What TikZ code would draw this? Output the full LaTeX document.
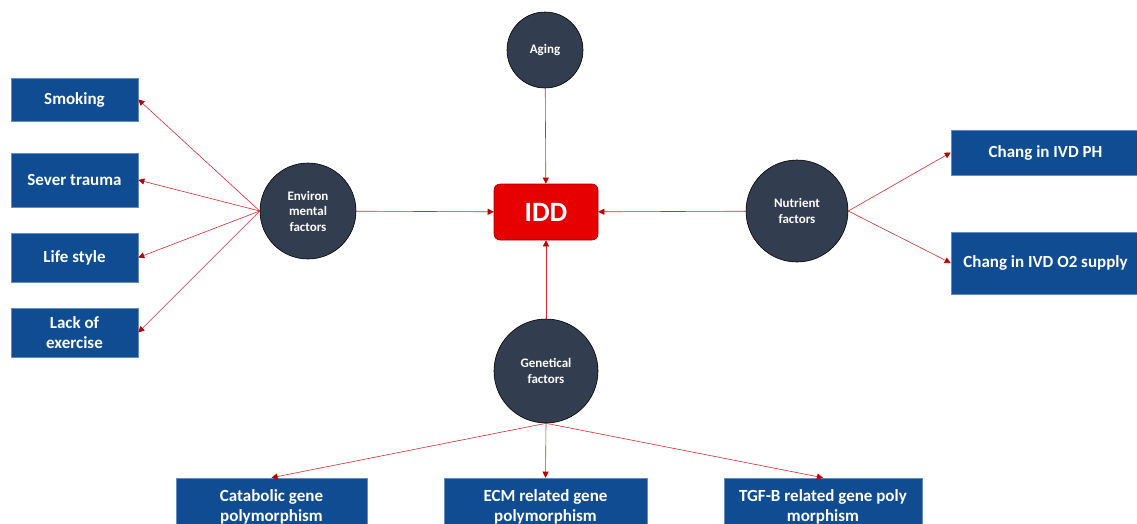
\documentclass[tikz,border=0pt]{standalone}
\usepackage{fontspec}
\setmainfont{Carlito}
\usetikzlibrary{arrows.meta}
\definecolor{hubfill}{RGB}{50,62,80}
\definecolor{boxfill}{RGB}{15,76,146}
\definecolor{boxline}{RGB}{100,140,190}
\definecolor{iddfill}{RGB}{230,0,0}
\definecolor{iddline}{RGB}{170,0,0}
\definecolor{linkred}{RGB}{215,45,45}
\definecolor{tipred}{RGB}{185,0,0}
\tikzset{
    hub/.style={circle, draw=black, line width=0.6pt, fill=hubfill, text=white, align=center, inner sep=0pt,
        font=\fontsize{13}{15.5}\selectfont\bfseries},
    leaf/.style={rectangle, draw=boxline, line width=0.6pt, fill=boxfill, text=white, align=center, inner sep=0pt,
        font=\fontsize{17}{20}\selectfont\bfseries},
    link/.style={draw=linkred, line width=0.6pt, -{Triangle[length=6pt,width=6pt,color=tipred]}}
}
\begin{document}
\begin{tikzpicture}[x=1pt,y=-1pt]
        \useasboundingbox (0,0) rectangle (1137,523);
        \clip (0,0) rectangle (1137,523);
        \node[rounded corners=6pt, draw=iddline, line width=0.6pt, fill=iddfill, text=white, minimum width=104pt, minimum height=56pt,
            font=\fontsize{28}{30}\selectfont\bfseries] (idd) at (546,212) {IDD};
        \node[hub, minimum size=76pt] (aging) at (545,50) {Aging};
        \node[hub, minimum size=96pt] (env) at (308,211) {Environ\\mental\\factors};
        \node[hub, minimum size=102pt] (nut) at (797,211) {Nutrient\\factors};
        \node[hub, minimum size=104pt] (gen) at (546,371) {Genetical\\factors};

        \node[leaf, minimum width=127pt, minimum height=43pt] (smoke) at (74.5,99.5) {Smoking};
        \node[leaf, minimum width=127pt, minimum height=54pt] (trauma) at (74.5,180) {Sever trauma};
        \node[leaf, minimum width=127pt, minimum height=49pt] (life) at (74.5,257.5) {Life style};
        \node[leaf, minimum width=127pt, minimum height=49pt] (lack) at (74.5,332.5) {Lack of\\exercise};

        \node[leaf, minimum width=189pt, minimum height=45pt] (ph) at (1045.5,152.5) {Chang in IVD PH};
        \node[leaf, minimum width=189pt, minimum height=62pt] (oxy) at (1045.5,263) {Chang in IVD O2 supply};

        \node[leaf, minimum width=191pt, minimum height=58pt] (cat) at (271.5,507) {Catabolic gene\\polymorphism};
        \node[leaf, minimum width=203pt, minimum height=58pt] (ecm) at (545.5,507) {ECM related gene\\polymorphism};
        \node[leaf, minimum width=198pt, minimum height=58pt] (tgf) at (823,507) {TGF-B related gene poly\\morphism};

        \draw[link] (aging) -- (idd);
        \draw[link] (env) -- (idd);
        \draw[link] (nut) -- (idd);
        \draw[link] (gen) -- (idd);

        \draw[link] (env.west) -- (smoke.east);
        \draw[link] (env.west) -- (trauma.east);
        \draw[link] (env.west) -- (life.east);
        \draw[link] (env.west) -- (lack.east);

        \draw[link] (nut.east) -- (ph.west);
        \draw[link] (nut.east) -- (oxy.west);

        \draw[link] (gen.south) -- (cat.north);
        \draw[link] (gen.south) -- (ecm.north);
        \draw[link] (gen.south) -- (tgf.north);
    \end{tikzpicture}
\end{document}
